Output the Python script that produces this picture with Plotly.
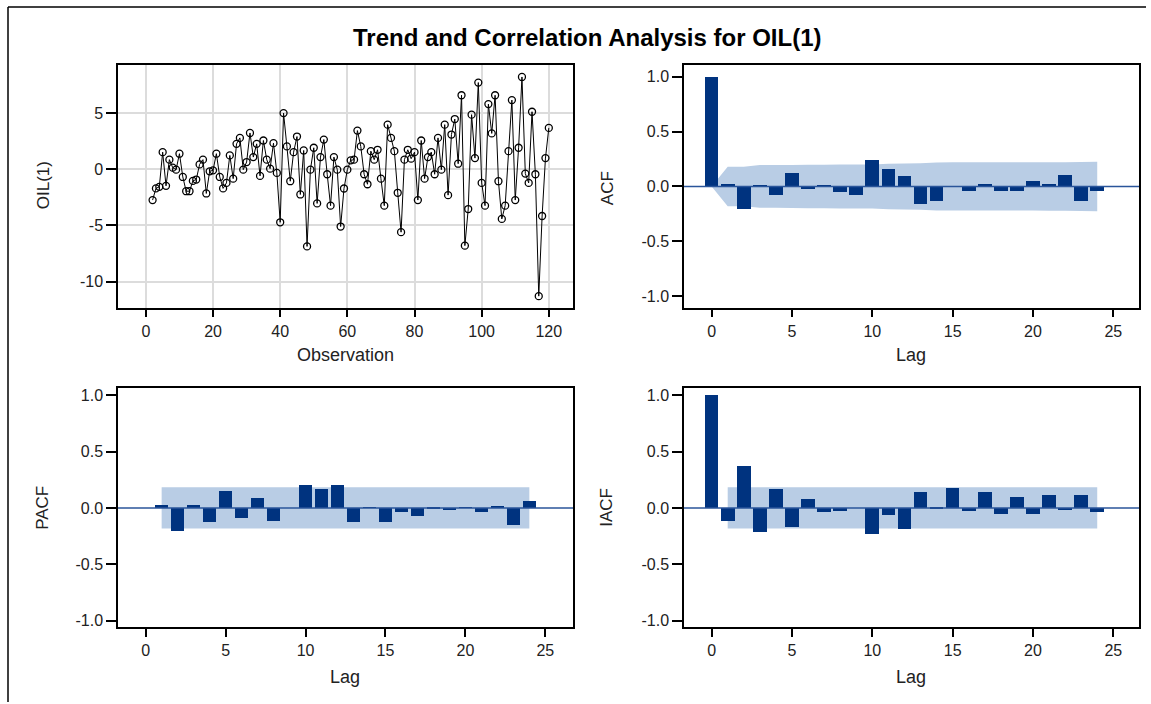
import plotly.graph_objects as go

# ---------------- data ----------------
obs = list(range(2, 121))
oil1 = [-2.74, -1.70, -1.56, 1.53, -1.47, 0.86, 0.15, -0.03, 1.39, -0.68,
        -1.95, -1.95, -1.03, -0.91, 0.44, 0.86, -2.15, -0.18, -0.09, 1.39,
        -0.68, -1.70, -1.21, 1.24, -0.83, 2.27, 2.80, -0.03, 0.65, 3.24,
        1.09, 2.27, -0.59, 2.57, 0.86, 0.06, 2.33, -0.32, -4.72, 5.01,
        2.04, -1.06, 1.53, 2.92, -2.24, 1.68, -6.87, -0.03, 1.92, -3.04,
        1.09, 2.65, -0.44, -3.24, 1.09, -0.03, -5.10, -1.71, -0.03, 0.80,
        0.86, 3.45, 2.04, -0.44, -1.33, 1.62, 0.86, 1.74, -0.83, -3.24,
        3.98, 2.80, 1.62, -2.09, -5.60, 0.86, 1.74, 0.95, 1.53, -2.74,
        2.57, -0.83, 1.09, 1.53, -0.44, 2.80, -0.03, 3.98, -2.30, 3.10,
        4.48, 0.50, 6.60, -6.80, -3.54, 4.87, 1.00, 7.73, -1.21, -3.24,
        5.81, 3.20, 6.60, -1.06, -4.42, -3.24, 1.62, 6.17, -2.74, 1.92,
        8.23, -0.38, -1.21, 5.13, -0.44, -11.30, -4.16, 1.00, 3.69]

lags = list(range(0, 25))
acf = [1.0, 0.024, -0.20, 0.01, -0.075, 0.123, -0.024, 0.012, -0.05, -0.078,
       0.243, 0.165, 0.10, -0.156, -0.13, 0.003, -0.035, 0.022, -0.038, -0.035,
       0.048, 0.022, 0.11, -0.13, -0.036]
acf_band = [0.0, 0.18, 0.18, 0.195, 0.195, 0.196, 0.198, 0.198, 0.2, 0.2,
            0.2, 0.207, 0.21, 0.212, 0.218, 0.22, 0.22, 0.22, 0.22, 0.22,
            0.22, 0.221, 0.222, 0.224, 0.226]

pacf_lags = list(range(1, 25))
pacf = [0.02, -0.21, 0.02, -0.13, 0.147, -0.09, 0.085, -0.115, 0.0, 0.203,
        0.162, 0.203, -0.13, 0.002, -0.13, -0.038, -0.076, -0.008, -0.024, 0.002,
        -0.04, 0.006, -0.156, 0.06]

iacf = [1.0, -0.115, 0.37, -0.218, 0.165, -0.168, 0.074, -0.038, -0.026, 0.0,
        -0.23, -0.07, -0.194, 0.135, -0.005, 0.174, -0.026, 0.135, -0.053, 0.097,
        -0.053, 0.112, -0.024, 0.112, -0.038]

white_noise_band = 0.183  # 2 / sqrt(n)

# ---------------- styles ----------------
W, H = 1151, 704
BAR = "#00337F"
BAND = "#B9CDE5"
ZERO = "#2A559A"
FONT = "Liberation Sans, Arial, sans-serif"
TICKFONT = dict(family=FONT, size=16, color="#222")

def px_x(p):
    return p / W

def px_y(p):
    return 1 - p / H

def band_path(xs, hw):
    pts = [(x, h) for x, h in zip(xs, hw)] + [(x, -h) for x, h in zip(xs[::-1], hw[::-1])]
    return "M " + " L ".join(f"{x},{y}" for x, y in pts) + " Z"

fig = go.Figure()

# series plot
fig.add_trace(go.Scatter(x=obs, y=oil1, mode="lines+markers",
                         line=dict(color="black", width=1),
                         marker=dict(symbol="circle-open", size=7, color="black",
                                     line=dict(width=1.3, color="black")),
                         xaxis="x", yaxis="y", showlegend=False))

fig.add_trace(go.Bar(x=lags, y=acf, width=0.85, marker=dict(color=BAR, line=dict(width=0)),
                     xaxis="x2", yaxis="y2", showlegend=False))
fig.add_trace(go.Bar(x=pacf_lags, y=pacf, width=0.85, marker=dict(color=BAR, line=dict(width=0)),
                     xaxis="x3", yaxis="y3", showlegend=False))
fig.add_trace(go.Bar(x=lags, y=iacf, width=0.85, marker=dict(color=BAR, line=dict(width=0)),
                     xaxis="x4", yaxis="y4", showlegend=False))

# confidence bands (drawn below the bars)
pb = [white_noise_band] * len(pacf_lags)
fig.add_shape(type="path", xref="x2", yref="y2", path=band_path(lags, acf_band),
              fillcolor=BAND, line=dict(width=0), layer="below")
fig.add_shape(type="path", xref="x3", yref="y3", path=band_path(pacf_lags, pb),
              fillcolor=BAND, line=dict(width=0), layer="below")
fig.add_shape(type="path", xref="x4", yref="y4", path=band_path(pacf_lags, pb),
              fillcolor=BAND, line=dict(width=0), layer="below")

left_dom = [px_x(118), px_x(573)]
right_dom = [px_x(684), px_x(1139)]
top_dom = [px_y(308), px_y(64)]
bot_dom = [px_y(629), px_y(389)]

common = dict(showline=True, mirror=True, linecolor="black", linewidth=1.5,
              ticks="outside", tickcolor="black", tickwidth=1.5,
              tickfont=TICKFONT, zeroline=False)

lag_ticks = [0, 5, 10, 15, 20, 25]
corr_ticks = [-1.0, -0.5, 0.0, 0.5, 1.0]
corr_text = ["-1.0", "-0.5", "0.0", "0.5", "1.0"]
series_yticks = [-10, -5, 0, 5]
series_ytext = ["-10", "-5", "0", "5"]
obs_ticks = [0, 20, 40, 60, 80, 100, 120]

fig.update_layout(
    width=W, height=H,
    margin=dict(l=0, r=0, t=0, b=0),
    paper_bgcolor="white", plot_bgcolor="white",
    bargap=0,
    xaxis=dict(domain=left_dom, anchor="y", range=[-8.3, 127.2],
               tickvals=obs_ticks, ticklen=8,
               showgrid=True, gridcolor="#DCDCDC", gridwidth=1.5, **common),
    yaxis=dict(domain=top_dom, anchor="x", range=[-12.33, 9.32],
               tickvals=series_yticks, ticktext=series_ytext, ticklen=10,
               showgrid=True, gridcolor="#DCDCDC", gridwidth=1.5, **common),
    xaxis2=dict(domain=right_dom, anchor="y2", range=[-1.72, 26.6],
                tickvals=lag_ticks, ticklen=8, showgrid=False, **common),
    yaxis2=dict(domain=top_dom, anchor="x2", range=[-1.105, 1.11],
                tickvals=corr_ticks, ticktext=corr_text, ticklen=10, showgrid=False, **common),
    xaxis3=dict(domain=left_dom, anchor="y3", range=[-1.73, 26.73],
                tickvals=lag_ticks, ticklen=8, showgrid=False, **common),
    yaxis3=dict(domain=bot_dom, anchor="x3", range=[-1.06, 1.062],
                tickvals=corr_ticks, ticktext=corr_text, ticklen=10, showgrid=False, **common),
    xaxis4=dict(domain=right_dom, anchor="y4", range=[-1.72, 26.6],
                tickvals=lag_ticks, ticklen=8, showgrid=False, **common),
    yaxis4=dict(domain=bot_dom, anchor="x4", range=[-1.06, 1.062],
                tickvals=corr_ticks, ticktext=corr_text, ticklen=10, showgrid=False, **common),
)

# zero reference lines on correlation panels
for ax in ["2", "3", "4"]:
    fig.add_shape(type="line", xref=f"x{ax} domain", yref=f"y{ax}",
                  x0=0, x1=1, y0=0, y1=0, line=dict(color=ZERO, width=1.5), layer="above")

# outer frame (left and top edges)
fig.add_shape(type="line", xref="paper", yref="paper", x0=px_x(8), x1=px_x(8),
              y0=0, y1=px_y(6), line=dict(color="black", width=1.5))
fig.add_shape(type="line", xref="paper", yref="paper", x0=px_x(8), x1=px_x(1146),
              y0=px_y(6), y1=px_y(6), line=dict(color="black", width=1.5))

# titles
ann = [
    dict(text="<b>Trend and Correlation Analysis for OIL(1)</b>", x=px_x(587), y=px_y(37),
         font=dict(family=FONT, size=24, color="black")),
    dict(text="Observation", x=px_x(345), y=px_y(356), font=dict(family=FONT, size=18, color="#222")),
    dict(text="Lag", x=px_x(911), y=px_y(356), font=dict(family=FONT, size=18, color="#222")),
    dict(text="Lag", x=px_x(345), y=px_y(679), font=dict(family=FONT, size=18, color="#222")),
    dict(text="Lag", x=px_x(911), y=px_y(679), font=dict(family=FONT, size=18, color="#222")),
    dict(text="OIL(1)", x=px_x(43), y=px_y(185), textangle=-90, font=dict(family=FONT, size=17, color="#222")),
    dict(text="ACF", x=px_x(607), y=px_y(188), textangle=-90, font=dict(family=FONT, size=17, color="#222")),
    dict(text="PACF", x=px_x(43), y=px_y(509), textangle=-90, font=dict(family=FONT, size=17, color="#222")),
    dict(text="IACF", x=px_x(607), y=px_y(509), textangle=-90, font=dict(family=FONT, size=17, color="#222")),
]
for a in ann:
    fig.add_annotation(xref="paper", yref="paper", showarrow=False,
                       xanchor="center", yanchor="middle", **a)

fig.write_html("out.html")
